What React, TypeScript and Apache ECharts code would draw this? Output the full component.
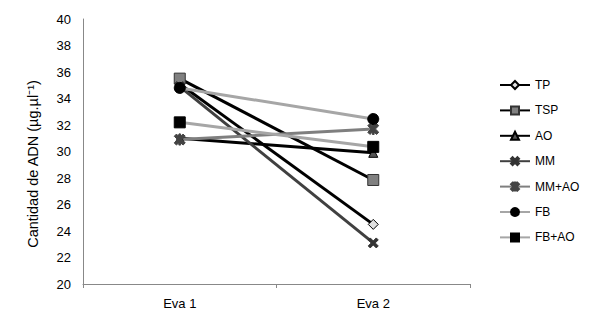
import React, { useEffect, useRef } from "react";
import * as echarts from "echarts";

const categories = ["Eva 1", "Eva 2"];
const seriesNames = ["TP", "TSP", "AO", "MM", "MM+AO", "FB", "FB+AO"];
const tp = [35.1, 24.5];
const tsp = [35.5, 27.85];
const ao = [31.0, 29.9];
const mm = [34.9, 23.1];
const mmao = [30.9, 31.7];
const fb = [34.8, 32.45];
const fbao = [32.2, 30.35];
const yTitle = "Cantidad de ADN (µg.µl⁻¹)";

const X_PATH =
  "path://M2,0 L5,3 L8,0 L10,2 L7,5 L10,8 L8,10 L5,7 L2,10 L0,8 L3,5 L0,2 Z";
const AST_PATH =
  "path://M2,0 L5,3 L8,0 L10,2 L7,5 L10,8 L8,10 L5,7 L2,10 L0,8 L3,5 L0,2 Z M4.2,0 L5.8,0 L5.8,10 L4.2,10 Z";

export default function App() {
  const ref = useRef<HTMLDivElement>(null);
  useEffect(() => {
    if (!ref.current) return;
    const chart = echarts.init(ref.current, null, { renderer: "svg" });
    const mk = (
      name: string,
      data: number[],
      lineColor: string,
      symbol: string,
      fill: string,
      border: string,
      size: number
    ) => ({
      name,
      type: "line",
      data,
      symbol,
      symbolSize: size,
      lineStyle: { color: lineColor, width: 3 },
      itemStyle: { color: fill, borderColor: border, borderWidth: 1 },
      emphasis: { disabled: true },
    });
    chart.setOption({
      animation: false,
      textStyle: { fontFamily: "Liberation Sans, Arial, sans-serif" },
      grid: { left: 83, right: 120, top: 19, bottom: 43, containLabel: false },
      legend: {
        orient: "vertical",
        left: 494,
        top: 74,
        itemWidth: 30,
        itemHeight: 10,
        itemGap: 13.4,
        data: seriesNames,
        textStyle: { fontSize: 12, color: "#000" },
      },
      graphic: [
        {
          type: "text",
          x: 33,
          y: 164,
          rotation: Math.PI / 2,
          style: {
            text: yTitle,
            fontSize: 14.5,
            fill: "#000",
            fontFamily: "Liberation Sans, Arial, sans-serif",
            textAlign: "center",
            textVerticalAlign: "middle",
          },
        },
      ],
      xAxis: {
        type: "category",
        data: categories,
        boundaryGap: true,
        axisLine: { lineStyle: { color: "#888" } },
        axisTick: { show: true, interval: 0, length: 4, lineStyle: { color: "#888" } },
        axisLabel: { color: "#000", fontSize: 13, margin: 13 },
      },
      yAxis: {
        type: "value",
        min: 20,
        max: 40,
        interval: 2,
        axisLine: { show: true, lineStyle: { color: "#888" } },
        axisTick: { show: false },
        splitLine: { show: false },
        axisLabel: { color: "#000", fontSize: 13, margin: 12 },
      },
      series: [
        mk("TP", tp, "#000000", "diamond", "#e0e0e0", "#000", 10),
        mk("TSP", tsp, "#000000", "rect", "#808080", "#333", 11),
        mk("AO", ao, "#000000", "triangle", "#555555", "#000", 9),
        mk("MM", mm, "#404040", X_PATH, "#333333", "#333", 10),
        mk("MM+AO", mmao, "#7f7f7f", AST_PATH, "#444444", "#444", 11),
        mk("FB", fb, "#a6a6a6", "circle", "#000000", "#000", 11),
        mk("FB+AO", fbao, "#a6a6a6", "rect", "#000000", "#000", 11),
      ],
    });
    return () => chart.dispose();
  }, []);
  return <div ref={ref} style={{ width: 590, height: 327, position: "absolute", left: 0, top: 0 }} />;
}
